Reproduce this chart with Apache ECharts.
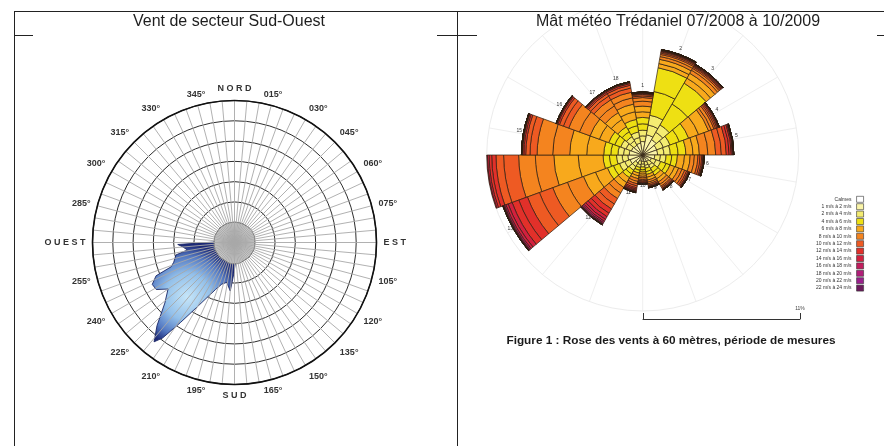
<!DOCTYPE html>
<html>
<head>
<meta charset="utf-8">
<script src="https://cdn.jsdelivr.net/npm/echarts@6/dist/echarts.min.js"></script>
<style>
  html, body { margin: 0; padding: 0; background: #ffffff; }
  #chart { width: 884px; height: 446px; }
</style>
</head>
<body>
<div id="chart"></div>
<script>
// ---------- Left rose: south-west sector profile ----------
const dirTicks = ['N O R D', '015°', '030°', '045°', '060°', '075°', 'E S T', '105°', '120°',
  '135°', '150°', '165°', 'S U D', '195°', '210°', '225°', '240°', '255°', 'O U E S T',
  '285°', '300°', '315°', '330°', '345°'];

// direction (degrees from north) and frequency level of the south-west lobe
const swAngles = [176, 178, 181, 185, 191, 197, 202, 210, 214, 217, 219, 223, 229, 235,
  239, 243, 247, 249, 252, 258, 261, 265, 268, 270, 272];
const swValues = [1.8, 2.1, 3.0, 4.8, 4.0, 4.3, 5.0, 7.3, 9.5, 11.8, 12.6, 11.2, 9.1, 8.0,
  9.0, 9.1, 8.4, 6.7, 6.3, 5.9, 4.7, 5.1, 5.6, 5.45, 1.8];

// inner calm circle
const calmAngles = [0, 30, 60, 90, 120, 150, 180, 210, 240, 270, 300, 330, 360];
const calmValues = [2.0, 2.0, 2.05, 2.0, 2.0, 2.0, 2.1, 2.0, 2.0, 2.0, 2.0, 2.0, 2.0];

// ---------- Right rose: Trédaniel mast, 18 sectors of 20° ----------
const sectors = ['1', '2', '3', '4', '5', '6', '7', '8', '9', '10', '11', '12', '13', '14',
  '15', '16', '17', '18'];

const legendNames = ['Calmes', '1 m/s à 2 m/s', '2 m/s à 4 m/s', '4 m/s à 6 m/s',
  '6 m/s à 8 m/s', '8 m/s à 10 m/s', '10 m/s à 12 m/s', '12 m/s à 14 m/s', '14 m/s à 16 m/s',
  '16 m/s à 18 m/s', '18 m/s à 20 m/s', '20 m/s à 22 m/s', '22 m/s à 24 m/s'];
const legendColors = ['#ffffff', '#faf4a8', '#f4ec72', '#eee013', '#f8a91c', '#f4841f',
  '#ee5a23', '#e2302a', '#d2203e', '#c21d5e', '#b11e79', '#9a1f8c', '#6c1a5c'];

// calm share per sector (%)
const calmes = [0.05, 0.05, 0.05, 0.05, 0.05, 0.05, 0.05, 0.05, 0.05, 0.05, 0.05, 0.05,
  0.05, 0.05, 0.05, 0.05, 0.05, 0.05];

// cumulative frequency (%) below 2, 3, 4, ... m/s for each sector
const sector1 = [0.9, 1.3, 1.7, 2.15, 2.6, 3.0, 3.4, 3.75, 4.0, 4.12, 4.22, 4.28, 4.32, 4.35, 4.37, 4.38, 4.39, 4.395, 4.4];
const sector2 = [1.4, 2.1, 2.8, 4.5, 6.2, 6.5, 6.8, 7.0, 7.15, 7.25, 7.33, 7.39, 7.43, 7.46, 7.48, 7.49, 7.5];
const sector3 = [1.2, 1.8, 2.4, 4.1, 5.8, 6.2, 6.6, 6.85, 7.0, 7.1, 7.17, 7.23, 7.28, 7.31, 7.33, 7.34, 7.35];
const sector4 = [1.0, 1.5, 2.0, 2.7, 3.4, 4.15, 4.9, 5.1, 5.3, 5.42, 5.52, 5.6, 5.65, 5.68, 5.7];
const sector5 = [1.0, 1.45, 1.9, 2.45, 3.0, 3.5, 3.95, 4.55, 5.1, 5.5, 5.85, 6.05, 6.2, 6.28, 6.33, 6.36, 6.38];
const sector6 = [0.8, 1.2, 1.6, 2.0, 2.4, 2.9, 3.3, 3.6, 3.85, 4.0, 4.12, 4.2, 4.25, 4.28, 4.3];
const sector7 = [0.6, 0.95, 1.3, 1.7, 2.0, 2.35, 2.65, 2.9, 3.1, 3.25, 3.35, 3.42, 3.46, 3.48, 3.5];
const sector8 = [0.5, 0.8, 1.05, 1.35, 1.6, 1.9, 2.15, 2.35, 2.5, 2.6, 2.68, 2.73, 2.76, 2.78, 2.8];
const sector9 = [0.45, 0.7, 0.9, 1.15, 1.35, 1.55, 1.75, 1.9, 2.02, 2.12, 2.19, 2.24, 2.27, 2.29, 2.3];
const sector10 = [0.4, 0.6, 0.8, 1.0, 1.15, 1.3, 1.45, 1.57, 1.68, 1.77, 1.85, 1.91, 1.95, 1.98, 2.0];
const sector11 = [0.4, 0.65, 0.85, 1.05, 1.25, 1.45, 1.65, 1.85, 2.02, 2.17, 2.3, 2.4, 2.48, 2.54, 2.58, 2.61, 2.63, 2.64, 2.65];
const sector12 = [0.6, 0.9, 1.2, 1.5, 1.8, 2.2, 2.6, 3.05, 3.5, 3.95, 4.35, 4.7, 4.98, 5.2, 5.36, 5.47, 5.55, 5.6, 5.63, 5.645, 5.65];
const sector13 = [0.9, 1.3, 1.7, 2.15, 2.6, 3.5, 4.4, 5.6, 6.7, 7.7, 8.6, 9.25, 9.75, 10.05, 10.22, 10.32, 10.38, 10.42, 10.44, 10.45];
const sector14 = [1.0, 1.4, 1.8, 2.3, 2.75, 4.5, 6.22, 7.52, 8.7, 9.76, 10.3, 10.6, 10.78, 10.9, 10.99, 11.04, 11.07, 11.09, 11.1];
const sector15 = [0.9, 1.3, 1.7, 2.2, 2.7, 3.9, 5.1, 6.3, 7.4, 7.9, 8.2, 8.33, 8.42, 8.46, 8.49, 8.5];
const sector16 = [0.8, 1.2, 1.6, 2.05, 2.5, 3.2, 3.9, 4.7, 5.5, 5.9, 6.2, 6.32, 6.39, 6.42, 6.44, 6.45];
const sector17 = [0.75, 1.1, 1.45, 1.85, 2.25, 2.85, 3.4, 3.95, 4.45, 4.75, 4.95, 5.06, 5.13, 5.17, 5.19, 5.2];
const sector18 = [0.8, 1.2, 1.6, 2.05, 2.5, 3.05, 3.6, 4.05, 4.45, 4.75, 4.95, 5.07, 5.14, 5.18, 5.2];

const scaleMax = 11; // % at the outer circle

// ---------- build series ----------
const cumBySector = [sector1, sector2, sector3, sector4, sector5, sector6, sector7, sector8,
  sector9, sector10, sector11, sector12, sector13, sector14, sector15, sector16, sector17, sector18];

// value of the 1 m/s bin starting at `lo` m/s in sector s (speeds above the list add nothing)
function binValue(s, lo) {
  const arr = cumBySector[s];
  const i = lo - 1;
  const end = i < arr.length ? arr[i] : arr[arr.length - 1];
  const start = i === 0 ? 0 : (i - 1 < arr.length ? arr[i - 1] : arr[arr.length - 1]);
  return +(end - start).toFixed(4);
}

function classIndex(lo) {
  return lo === 1 ? 1 : 1 + Math.floor(lo / 2);
}

const barBase = {
  type: 'bar',
  coordinateSystem: 'polar',
  polarIndex: 1,
  stack: 'rose',
  barCategoryGap: '0%',
  z: 3
};

const barBorder = { borderColor: '#2b1d10', borderWidth: 0.7 };

const roseSeries = [];
roseSeries.push(Object.assign({}, barBase, {
  name: legendNames[0],
  data: calmes,
  itemStyle: Object.assign({ color: legendColors[0] }, barBorder)
}));
for (let lo = 1; lo <= 23; lo++) {
  const ci = classIndex(lo);
  roseSeries.push(Object.assign({}, barBase, {
    name: legendNames[ci],
    data: sectors.map((_, s) => binValue(s, lo)),
    itemStyle: Object.assign({ color: legendColors[ci] }, barBorder)
  }));
}
// sector numbers at the end of each stack
roseSeries.push(Object.assign({}, barBase, {
  name: 'Secteur',
  data: sectors.map(() => 0),
  itemStyle: { color: 'transparent', borderWidth: 0 },
  label: {
    show: true,
    position: 'endArc',
    distance: 4,
    rotate: 0,
    formatter: '{b}',
    fontSize: 5,
    color: '#333',
    fontFamily: 'Liberation Sans'
  }
}));

const chart = echarts.init(document.getElementById('chart'), null, { renderer: 'canvas' });

const option = {
  backgroundColor: '#ffffff',
  animation: false,
  polar: [
    { center: [234.5, 242.5], radius: 142 },
    { center: [642.7, 155], radius: 156 },
    { center: [642.7, 155], radius: 156 }
  ],
  angleAxis: [
    {
      polarIndex: 0,
      type: 'value',
      min: 0,
      max: 360,
      interval: 5,
      startAngle: 90,
      clockwise: true,
      z: 10,
      axisLine: { lineStyle: { color: '#111', width: 1.6 } },
      axisTick: { show: false },
      splitLine: { lineStyle: { color: '#a8a8a8', width: 0.9 } },
      axisLabel: {
        margin: 7,
        fontSize: 9,
        fontWeight: 'bold',
        color: '#333',
        fontFamily: 'Liberation Sans',
        formatter: v => (v % 15 === 0 && v < 360) ? dirTicks[v / 15] : ''
      }
    },
    {
      polarIndex: 1,
      type: 'category',
      data: sectors,
      startAngle: 100,
      clockwise: true,
      show: false
    },
    {
      polarIndex: 2,
      type: 'value',
      min: 0,
      max: 360,
      interval: 20,
      startAngle: 90,
      clockwise: true,
      z: 0,
      axisLine: { lineStyle: { color: '#ececec', width: 1 } },
      axisTick: { show: false },
      axisLabel: { show: false },
      splitLine: { lineStyle: { color: '#efefef', width: 1 } }
    }
  ],
  radiusAxis: [
    {
      polarIndex: 0,
      type: 'value',
      min: 0,
      max: 14,
      interval: 2,
      z: 0,
      axisLine: { show: false },
      axisTick: { show: false },
      axisLabel: { show: false },
      splitLine: { lineStyle: { color: '#2e2e2e', width: 1 } }
    },
    {
      polarIndex: 1,
      type: 'value',
      min: 0,
      max: scaleMax,
      show: false
    },
    {
      polarIndex: 2,
      type: 'value',
      min: 0,
      max: scaleMax,
      axisLine: { show: false },
      axisTick: { show: false },
      axisLabel: { show: false },
      splitLine: { show: false }
    }
  ],
  grid: { left: 643, top: 300, width: 157, height: 19, show: false },
  xAxis: {
    type: 'value',
    min: 0,
    max: scaleMax,
    interval: scaleMax,
    axisLine: { lineStyle: { color: '#333', width: 1 } },
    axisTick: { inside: true, length: 6, lineStyle: { color: '#333' } },
    splitLine: { show: false },
    axisLabel: {
      inside: true,
      margin: 8,
      fontSize: 5,
      color: '#444',
      fontFamily: 'Liberation Sans',
      formatter: v => v === scaleMax ? scaleMax + '%' : ''
    }
  },
  yAxis: { type: 'value', min: 0, max: 1, show: false },
  legend: {
    data: legendNames,
    orient: 'vertical',
    left: 816,
    top: 196,
    align: 'right',
    itemWidth: 7,
    itemHeight: 6,
    itemGap: 0.8,
    padding: 0,
    selectedMode: false,
    icon: 'rect',
    itemStyle: { borderColor: '#333', borderWidth: 0.6 },
    textStyle: { fontSize: 5, color: '#333', fontFamily: 'Liberation Sans' }
  },
  graphic: [
    // page strip above the frame hides the grid circle overflow
    { type: 'rect', z: 50, shape: { x: 458, y: 0, width: 426, height: 11 }, style: { fill: '#ffffff' } },
    { type: 'line', z: 60, shape: { x1: 14, y1: 11.5, x2: 884, y2: 11.5 }, style: { stroke: '#222', lineWidth: 1 } },
    { type: 'line', z: 60, shape: { x1: 14.5, y1: 11, x2: 14.5, y2: 446 }, style: { stroke: '#222', lineWidth: 1 } },
    { type: 'line', z: 60, shape: { x1: 457.5, y1: 11, x2: 457.5, y2: 446 }, style: { stroke: '#222', lineWidth: 1 } },
    { type: 'line', z: 60, shape: { x1: 14, y1: 35.5, x2: 33, y2: 35.5 }, style: { stroke: '#222', lineWidth: 1 } },
    { type: 'line', z: 60, shape: { x1: 437, y1: 35.5, x2: 477, y2: 35.5 }, style: { stroke: '#222', lineWidth: 1 } },
    { type: 'line', z: 60, shape: { x1: 877, y1: 35.5, x2: 884, y2: 35.5 }, style: { stroke: '#222', lineWidth: 1 } },
    {
      type: 'text', z: 60, x: 229, y: 22,
      style: { text: 'Vent de secteur Sud-Ouest', font: '16px "Liberation Sans", Arial', fill: '#1e1e1e', align: 'center', verticalAlign: 'middle' }
    },
    {
      type: 'text', z: 60, x: 678, y: 22,
      style: { text: 'Mât météo Trédaniel 07/2008 à 10/2009', font: '16px "Liberation Sans", Arial', fill: '#1e1e1e', align: 'center', verticalAlign: 'middle' }
    },
    {
      type: 'text', z: 60, x: 671, y: 341,
      style: { text: 'Figure 1 : Rose des vents à 60 mètres, période de mesures', font: 'bold 11.8px "Liberation Sans", Arial', fill: '#1a1a1a', align: 'center', verticalAlign: 'middle' }
    }
  ],
  series: [
    {
      name: 'Secteur Sud-Ouest',
      type: 'line',
      coordinateSystem: 'polar',
      polarIndex: 0,
      z: 2,
      symbol: 'none',
      data: swAngles.map((a, i) => [swValues[i], a]),
      lineStyle: { color: '#1b2765', width: 0.9 },
      areaStyle: {
        opacity: 1,
        color: {
          type: 'radial', x: 0.42, y: 0.55, r: 0.62,
          colorStops: [
            { offset: 0, color: '#c6e6f9' },
            { offset: 0.45, color: '#93c0ea' },
            { offset: 0.78, color: '#5378c2' },
            { offset: 1, color: '#1d2a78' }
          ]
        }
      }
    },
    {
      name: 'Zone calme',
      type: 'line',
      coordinateSystem: 'polar',
      polarIndex: 0,
      z: 3,
      symbol: 'none',
      smooth: true,
      data: calmAngles.map((a, i) => [calmValues[i], a]),
      lineStyle: { color: '#6e6e6e', width: 1 },
      areaStyle: { color: '#c7c7c7', opacity: 1 }
    },
    ...roseSeries
  ]
};

chart.setOption(option);
</script>
</body>
</html>
